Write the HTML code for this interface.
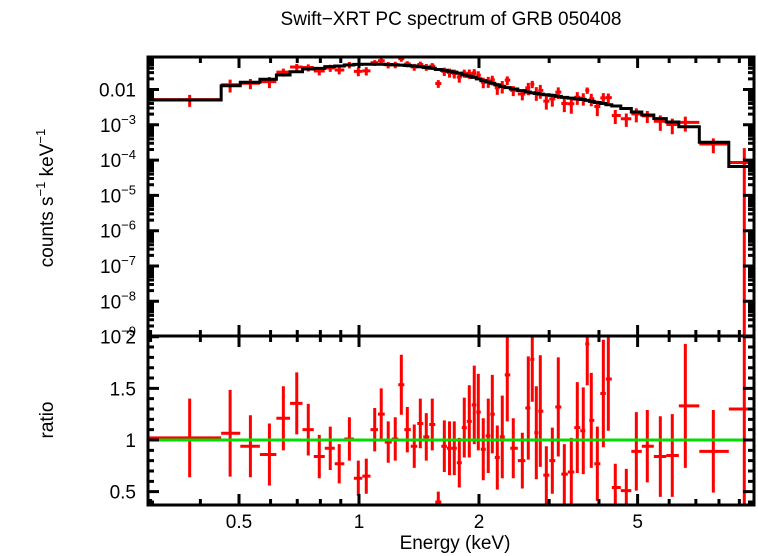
<!DOCTYPE html>
<html><head><meta charset="utf-8"><style>
html,body{margin:0;background:#fff;overflow:hidden;width:758px;height:556px;}
svg{display:block;font-family:"Liberation Sans",sans-serif;}
</style></head><body>
<svg id="chart" width="758" height="556"></svg>
<script>
const energies=[0.376,0.475,0.534,0.596,0.646,0.698,0.746,0.795,0.847,0.892,0.946,0.996,1.043,1.095,1.137,1.184,1.233,1.277,1.322,1.376,1.425,1.475,1.527,1.581,1.637,1.687,1.734,1.785,1.837,1.891,1.946,1.992,2.050,2.110,2.160,2.223,2.288,2.355,2.438,2.569,2.659,2.721,2.785,2.850,2.951,3.055,3.162,3.274,3.409,3.529,3.653,3.738,3.826,3.962,4.102,4.222,4.395,4.684,4.963,5.288,5.701,6.109,6.587,7.743,9.26];
const ratios=[1.02,1.065,0.94,0.86,1.21,1.355,1.10,0.84,0.92,0.77,1.01,0.63,0.65,1.10,1.25,0.98,1.01,1.535,1.10,0.94,1.16,1.03,1.15,0.40,0.94,0.92,0.92,0.78,1.12,1.18,1.34,1.27,0.91,1.04,1.25,0.83,1.03,1.63,0.92,0.80,1.31,1.78,1.07,1.28,0.66,0.80,1.32,0.67,0.69,1.12,1.09,1.93,1.19,0.77,1.45,1.59,0.54,0.51,0.89,0.94,0.84,0.85,1.33,0.89,1.30];
const ratioErrs=[0.38,0.42,0.30,0.30,0.31,0.30,0.25,0.21,0.21,0.19,0.21,0.17,0.17,0.21,0.25,0.20,0.21,0.29,0.22,0.21,0.24,0.23,0.25,0.10,0.25,0.26,0.26,0.24,0.29,0.35,0.38,0.37,0.30,0.36,0.38,0.31,0.40,0.45,0.29,0.27,0.50,0.41,0.45,0.54,0.28,0.32,0.48,0.29,0.33,0.44,0.42,0.40,0.46,0.36,0.52,0.50,0.23,0.21,0.38,0.35,0.39,0.40,0.60,0.40,2.0];
const modelVals=[0.00505,0.0128,0.0160,0.0195,0.0257,0.0319,0.0381,0.0398,0.0443,0.0464,0.0494,0.0517,0.052,0.052,0.052,0.051,0.050,0.049,0.048,0.0464,0.044,0.042,0.040,0.037,0.035,0.033,0.031,0.029,0.026,0.024,0.022,0.020,0.0178,0.0163,0.015,0.0135,0.0122,0.0113,0.0103,0.0093,0.0085,0.0080,0.0077,0.0074,0.0071,0.0068,0.0064,0.0060,0.0057,0.0054,0.0052,0.0049,0.0046,0.0043,0.0040,0.0037,0.0034,0.0029,0.0023,0.0019,0.0015,0.0012,0.00088,0.00032,0.000066];
const firstBinEdges=[0.296,0.451];
const xTickLabels=["0.5","1","2","5"];
const xTickVals=[0.5,1,2,5];
const yTopLabels=["0.01","10","10","10","10","10","10","10"];
const yTopExps=["","−3","−4","−5","−6","−7","−8","−9"];
const yRatioTicks=[0.5,1,1.5,2];

const svg=document.getElementById('chart');
const NS='http://www.w3.org/2000/svg';
const L=148,R=754,T=57,MID=336,B=505;
const FS=19;
const xS=e=>359+398.6*Math.log10(e);
const yTop=v=>89.5-35.3*(Math.log10(v)+2);
const yRat=r=>440-103.3*(r-1);
function mk(tag,attrs,parent){const el=document.createElementNS(NS,tag);for(const k in attrs)el.setAttribute(k,attrs[k]);(parent||svg).appendChild(el);return el;}

const edges=[firstBinEdges[0],firstBinEdges[1]];
for(let i=1;i<energies.length-1;i++)edges.push(Math.sqrt(energies[i]*energies[i+1]));
edges.push(9.9);

const defs=mk('defs',{});
const c1=mk('clipPath',{id:'clipTop'},defs);mk('rect',{x:L,y:T,width:R-L,height:MID-T},c1);
const c2=mk('clipPath',{id:'clipBot'},defs);mk('rect',{x:L,y:MID,width:R-L,height:B-MID},c2);

const gTop=mk('g',{'clip-path':'url(#clipTop)'});


energies.forEach((e,i)=>{
  const m=modelVals[i],v=m*ratios[i],lo=m*(ratios[i]-ratioErrs[i]),hi=m*(ratios[i]+ratioErrs[i]);
  const x=xS(e),y=yTop(v);
  const yl=lo>0?yTop(lo):MID+5;
  const p=mk('path',{d:`M${xS(edges[i])},${y}H${xS(edges[i+1])}M${x},${yTop(hi)}V${yl}`,stroke:'#f00','stroke-width':3,fill:'none'},gTop);
  
  
});
let d='';
energies.forEach((e,i)=>{const y=yTop(modelVals[i]);d+=(i?'V':'M'+xS(edges[i])+',')+y+'H'+xS(edges[i+1]);});
const mp=mk('path',{d:d,stroke:'#000','stroke-width':3,fill:'none'},gTop);



const gBot=mk('g',{'clip-path':'url(#clipBot)'});


energies.forEach((e,i)=>{
  const x=xS(e),y=yRat(ratios[i]);
  const p=mk('path',{d:`M${xS(edges[i])},${y}H${xS(edges[i+1])}M${x},${yRat(ratios[i]+ratioErrs[i])}V${yRat(ratios[i]-ratioErrs[i])}`,stroke:'#f00','stroke-width':3,fill:'none'},gBot);
  
  
});
const gl=mk('line',{x1:L,x2:R,y1:yRat(1),y2:yRat(1),stroke:'#0d0','stroke-width':3});



const f1=mk('rect',{x:L,y:T,width:R-L,height:MID-T,fill:'none',stroke:'#000','stroke-width':3});

const f2=mk('rect',{x:L,y:MID,width:R-L,height:B-MID,fill:'none',stroke:'#000','stroke-width':3});


let td='';
const minorE=[0.3,0.4,0.6,0.7,0.8,0.9,3,4,6,7,8,9];
minorE.forEach(e=>{const x=xS(e);td+=`M${x},${T}v6M${x},${MID}v-6M${x},${MID}v6M${x},${B}v-6`;});
xTickVals.forEach(e=>{const x=xS(e);td+=`M${x},${T}v11M${x},${MID}v-11M${x},${MID}v11M${x},${B}v-11`;});
for(let dec=-9;dec<=-2;dec++){
  const y=yTop(Math.pow(10,dec));td+=`M${L},${y}h11M${R},${y}h-11`;
  for(let k=2;k<=9;k++){const yy=yTop(k*Math.pow(10,dec));if(yy>T)td+=`M${L},${yy}h6M${R},${yy}h-6`;}
}
for(let r=0.4;r<=2.001;r+=0.1){const y=yRat(r);const maj=Math.abs(r*2-Math.round(r*2))<1e-6;const w=maj?11:6;td+=`M${L},${y}h${w}M${R},${y}h-${w}`;}
const tk=mk('path',{d:td,stroke:'#000','stroke-width':3,fill:'none'});


function txt(s,attrs,name){const t=mk('text',Object.assign({'font-size':FS,fill:'#000'},attrs));t.textContent=s;return t;}
xTickLabels.forEach((s,i)=>txt(s,{x:xS(xTickVals[i]),y:528,'text-anchor':'middle'},'x-tick-label'));
yTopLabels.forEach((s,i)=>{
  const y=yTop(Math.pow(10,-2-i))+7;
  if(i===0){txt(s,{x:136,y:y,'text-anchor':'end'},'y-tick-label');}
  else{const t=txt('',{x:136,y:y,'text-anchor':'end'},'y-tick-label');
    const a=mk('tspan',{},t);a.textContent='10';
    const b=mk('tspan',{dy:-8,'font-size':13},t);b.textContent=yTopExps[i];}
});
yRatioTicks.forEach(r=>txt(String(r),{x:136,y:yRat(r)+7,'text-anchor':'end'},'ratio-tick-label'));
txt('Swift−XRT PC spectrum of GRB 050408',{x:451,y:25,'text-anchor':'middle'},'chart-title');
txt('Energy (keV)',{x:455,y:549,'text-anchor':'middle'},'x-axis-title');
const yl=txt('',{transform:'translate(53,198) rotate(-90)','text-anchor':'middle'},'y-axis-title');
[['counts s',0,FS],['−1',-8,13],[' keV',8,FS],['−1',-8,13]].forEach(([s,dy,fs])=>{const t=mk('tspan',{dy:dy,'font-size':fs},yl);t.textContent=s;});
txt('ratio',{transform:'translate(53,420) rotate(-90)','text-anchor':'middle'},'ratio-axis-title');
</script>
</body></html>
